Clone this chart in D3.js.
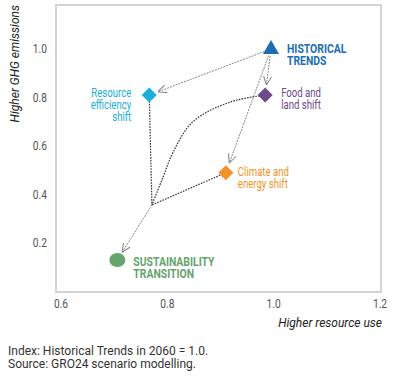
<!DOCTYPE html>
<html>
<head>
<meta charset="utf-8">
<script src="https://cdn.jsdelivr.net/npm/d3@7"></script>
<style>
	body{ margin:0; background:#fff; }
	svg{ display:block; font-family:Roboto, "DejaVu Sans", sans-serif; }
</style>
</head>
<body>
<div id="chart"></div>
<script>
// scenario names, resource use (x) and GHG emissions (y), index HT 2060 = 1.0
var scenarios = ["HT", "RE", "FL", "CE", "ST"];
var labels = [["HISTORICAL", "TRENDS"], ["Resource", "efficiency", "shift"], ["Food and", "land shift"], ["Climate and", "energy shift"], ["SUSTAINABILITY", "TRANSITION"]];
var resourceUse = [0.995, 0.766, 0.984, 0.910, 0.706];
var ghgEmissions = [1.0, 0.81, 0.81, 0.49, 0.13];
var colors = ["#1b6db4", "#1aaed9", "#6c4a8e", "#f39325", "#64a56d"];
var shapes = ["triangle", "diamond", "diamond", "diamond", "ellipse"];

// branching point where the three shifts combine
var junction = [0.771, 0.357];
// path from food and land shift bending down to the junction
var curvePts = [[0.984, 0.81], [0.918, 0.781], [0.848, 0.70], [0.811, 0.575], [0.792, 0.472], [0.771, 0.357]];

var xTicks = [0.6, 0.8, 1.0, 1.2];
var yTicks = [0.2, 0.4, 0.6, 0.8, 1.0];
var notes = ["Index: Historical Trends in 2060 = 1.0.", "Source: GRO24 scenario modelling."];

;(function(d3){
	var W = 393, H = 377;
	var svg = d3.select("#chart").append("svg").attr("width", W).attr("height", H);

	var x = d3.scaleLinear().domain([0.6, 1.2]).range([61, 380]),
		y = d3.scaleLinear().domain([0, 1]).range([291.5, 49]);
	var left = 56, right = 381, top = 5, bottom = 292;

	// frame
	svg.append("rect").attr("x", left).attr("y", top)
		.attr("width", right - left).attr("height", bottom - top)
		.attr("fill", "none").attr("stroke", "#d4d4d4").attr("stroke-width", 2);

	// ticks
	var cond = 0.85;
	svg.append("g").selectAll("text").data(yTicks).enter().append("text")
		.attr("transform", function(d){ return "translate(47," + (y(d) + 4) + ") scale(" + cond + ",1)"; })
		.attr("text-anchor", "end").attr("font-size", 12).attr("fill", "#555")
		.text(function(d){ return d3.format(".1f")(d); });
	svg.append("g").selectAll("text").data(xTicks).enter().append("text")
		.attr("transform", function(d){ return "translate(" + x(d) + ",308) scale(" + cond + ",1)"; })
		.attr("text-anchor", "middle").attr("font-size", 12).attr("fill", "#555")
		.text(function(d){ return d3.format(".1f")(d); });

	// axis titles
	svg.append("text").attr("transform", "translate(19,5) rotate(-90)")
		.attr("text-anchor", "end").attr("font-size", 12).attr("font-style", "italic").attr("fill", "#222")
		.text("Higher GHG emissions");
	svg.append("text").attr("x", 382).attr("y", 327)
		.attr("text-anchor", "end").attr("font-size", 12).attr("font-style", "italic").attr("fill", "#222")
		.text("Higher resource use");

	// arrow marker
	svg.append("defs").append("marker").attr("id", "arrow")
		.attr("viewBox", "0 -5 10 10").attr("refX", 10).attr("refY", 0)
		.attr("markerWidth", 9).attr("markerHeight", 9).attr("markerUnits", "userSpaceOnUse")
		.attr("orient", "auto")
		.append("path").attr("d", "M0,-4.5 L10,0 L0,4.5").attr("fill", "none")
		.attr("stroke", "#777").attr("stroke-width", 1);

	function pt(i){ return [x(resourceUse[i]), y(ghgEmissions[i])]; }
	function shorten(a, b, da, db){
		var dx = b[0] - a[0], dy = b[1] - a[1], L = Math.sqrt(dx * dx + dy * dy);
		return [[a[0] + dx * da / L, a[1] + dy * da / L], [b[0] - dx * db / L, b[1] - dy * db / L]];
	}
	var line = d3.line();
	var jp = [x(junction[0]), y(junction[1])];

	// gray arrows from historical trends, and from junction to sustainability
	var arrows = [[pt(0), pt(1), 7, 9], [pt(0), pt(2), 7, 10], [pt(0), pt(3), 7, 10], [jp, pt(4), 0, 9]];
	svg.append("g").selectAll("path").data(arrows).enter().append("path")
		.attr("d", function(d){ return line(shorten(d[0], d[1], d[2], d[3])); })
		.attr("fill", "none").attr("stroke", "#888").attr("stroke-width", 1)
		.attr("stroke-dasharray", "2,1").attr("marker-end", "url(#arrow)");

	// black dotted links to junction
	var links = [[pt(1), jp], [pt(3), jp]];
	svg.append("g").selectAll("path").data(links).enter().append("path")
		.attr("d", function(d){ return line(shorten(d[0], d[1], 6, 0)); })
		.attr("fill", "none").attr("stroke", "#333").attr("stroke-width", 1.2)
		.attr("stroke-dasharray", "1.6,1.2");
	svg.append("path")
		.attr("d", d3.line().curve(d3.curveCatmullRom.alpha(0.5))
			.x(function(d){ return x(d[0]); }).y(function(d){ return y(d[1]); })(curvePts))
		.attr("fill", "none").attr("stroke", "#333").attr("stroke-width", 1.2)
		.attr("stroke-dasharray", "1.6,1.2");

	// markers
	var sym = {
		"triangle": "M0,-9 L8,5 L-8,5 Z",
		"diamond": "M0,-7.5 L7.5,0 L0,7.5 L-7.5,0 Z"
	};
	scenarios.forEach(function(s, i){
		var p = pt(i);
		if(shapes[i] == "ellipse"){
			svg.append("ellipse").attr("cx", p[0]).attr("cy", p[1]).attr("rx", 8).attr("ry", 7).attr("fill", colors[i]);
		}else{
			svg.append("path").attr("transform", "translate(" + p + ")").attr("d", sym[shapes[i]]).attr("fill", colors[i]);
		}
	});

	// labels
	var lab = [
		{dx: 16, dy: 4, anchor: "start", bold: true, size: 13, lh: 11.5},
		{dx: -18, dy: 2, anchor: "end", bold: false, size: 12, lh: 12},
		{dx: 16, dy: 2, anchor: "start", bold: false, size: 12, lh: 12},
		{dx: 12, dy: 3, anchor: "start", bold: false, size: 12, lh: 12},
		{dx: 16, dy: 6, anchor: "start", bold: true, size: 13, lh: 12}
	];
	scenarios.forEach(function(s, i){
		var p = pt(i), o = lab[i];
		var t = svg.append("text")
			.attr("transform", "translate(" + (p[0] + o.dx) + "," + (p[1] + o.dy) + ") scale(0.8,1)")
			.attr("text-anchor", o.anchor).attr("font-size", o.size)
			.attr("font-weight", o.bold ? "bold" : "normal").attr("fill", colors[i]);
		labels[i].forEach(function(l, k){
			t.append("tspan").attr("x", 0).attr("y", k * o.lh).text(l);
		});
	});

	// notes
	svg.append("g").selectAll("text").data(notes).enter().append("text")
		.attr("x", 8).attr("y", function(d, i){ return 355 + i * 13; })
		.attr("font-size", 12).attr("fill", "#333").text(function(d){ return d; });
})(d3);
</script>
</body>
</html>
